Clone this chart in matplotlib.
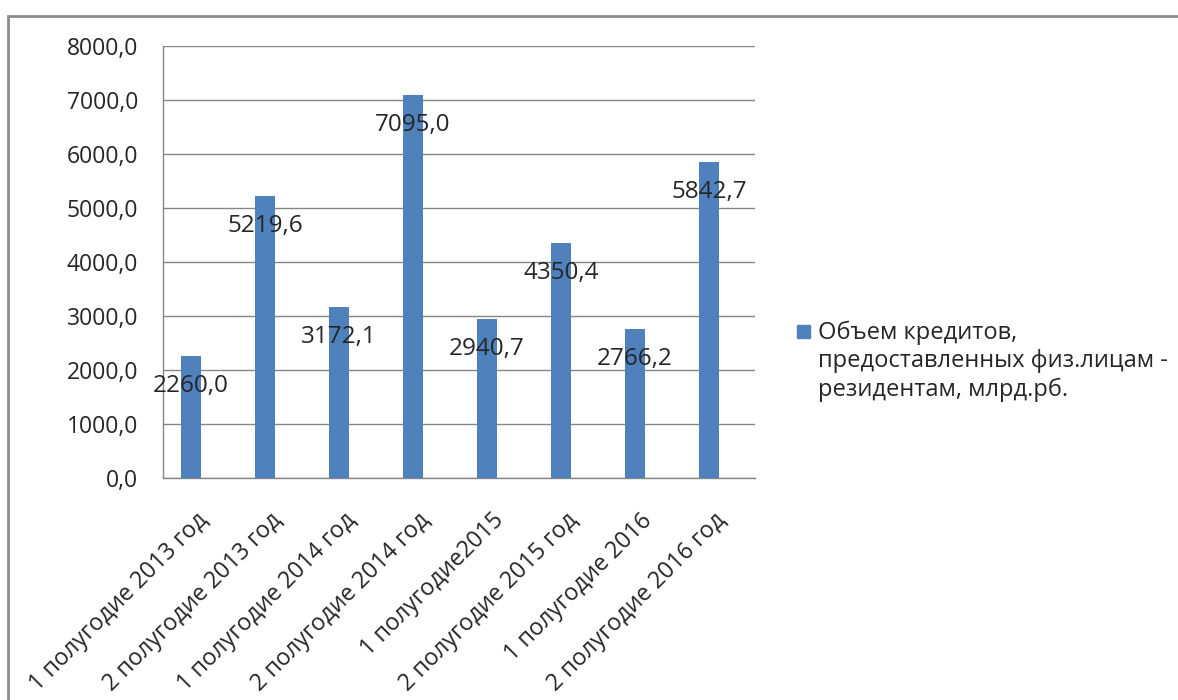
import matplotlib
matplotlib.use("Agg")
import matplotlib.pyplot as plt
from matplotlib.patches import Rectangle
from matplotlib.ticker import FuncFormatter, MultipleLocator
from matplotlib.transforms import ScaledTranslation

plt.rcParams['font.family'] = ['Open Sans', 'DejaVu Sans']

categories = ['1 полугодие 2013 год', '2 полугодие 2013 год', '1 полугодие 2014 год',
              '2 полугодие 2014 год', '1 полугодие2015', '2 полугодие 2015 год',
              '1 полугодие 2016', '2 полугодие 2016 год']
values = [2260.0, 5219.6, 3172.1, 7095.0, 2940.7, 4350.4, 2766.2, 5842.7]
series_name = 'Объем кредитов,\nпредоставленных физ.лицам -\nрезидентам, млрд.рб.'

bar_color = '#4F81BD'
grid_color = '#868686'
text_color = '#262626'

fig = plt.figure(figsize=(11.78, 7), dpi=100)
ax = fig.add_axes([163/1178, 222/700, 592/1178, 432/700])

x = list(range(len(values)))
ax.bar(x, values, width=0.28, color=bar_color, zorder=3)

ax.set_ylim(0, 8000)
ax.set_xlim(-0.38, 7.62)
ax.yaxis.set_major_locator(MultipleLocator(1000))
ax.yaxis.set_major_formatter(FuncFormatter(lambda v, p: f'{v:.1f}'.replace('.', ',')))
ax.grid(axis='y', color=grid_color, linewidth=1, zorder=0)
for s in ['top', 'right']:
    ax.spines[s].set_visible(False)
for s in ['left', 'bottom']:
    ax.spines[s].set_color(grid_color)
    ax.spines[s].set_linewidth(1)
ax.tick_params(axis='y', length=0, pad=18, labelsize=16.5, labelcolor=text_color)
ax.tick_params(axis='x', length=0, pad=22, labelsize=16.8, labelcolor=text_color)

ax.set_xticks(x)
ax.set_xticklabels(categories, rotation=45, ha='right', va='top', rotation_mode='anchor')
shift = ScaledTranslation(0.05, 0, fig.dpi_scale_trans)
for lab in ax.get_xticklabels():
    lab.set_transform(lab.get_transform() + shift)

for xi, v in zip(x, values):
    ax.annotate(f'{v:.1f}'.replace('.', ','), (xi, v), xytext=(0, -21.6),
                textcoords='offset points', ha='center', va='center',
                fontsize=17.5, color=text_color, zorder=4)

# legend drawn by hand so the marker sits at the first line
fig.add_artist(Rectangle((797/1178, 1 - 338/700), 13/1178, 13/700,
                         transform=fig.transFigure, color=bar_color))
fig.text(818/1178, 1 - 321/700, series_name, ha='left', va='top',
         fontsize=17, color=text_color, linespacing=1.22,
         transform=fig.transFigure)

# outer chart frame
fig.add_artist(Rectangle((8/1178, -0.05), 1.1, 1 - 16/700 + 0.05,
                         transform=fig.transFigure, fill=False,
                         edgecolor='#8c8c8c', linewidth=2))

fig.savefig('out.png', dpi=100)
